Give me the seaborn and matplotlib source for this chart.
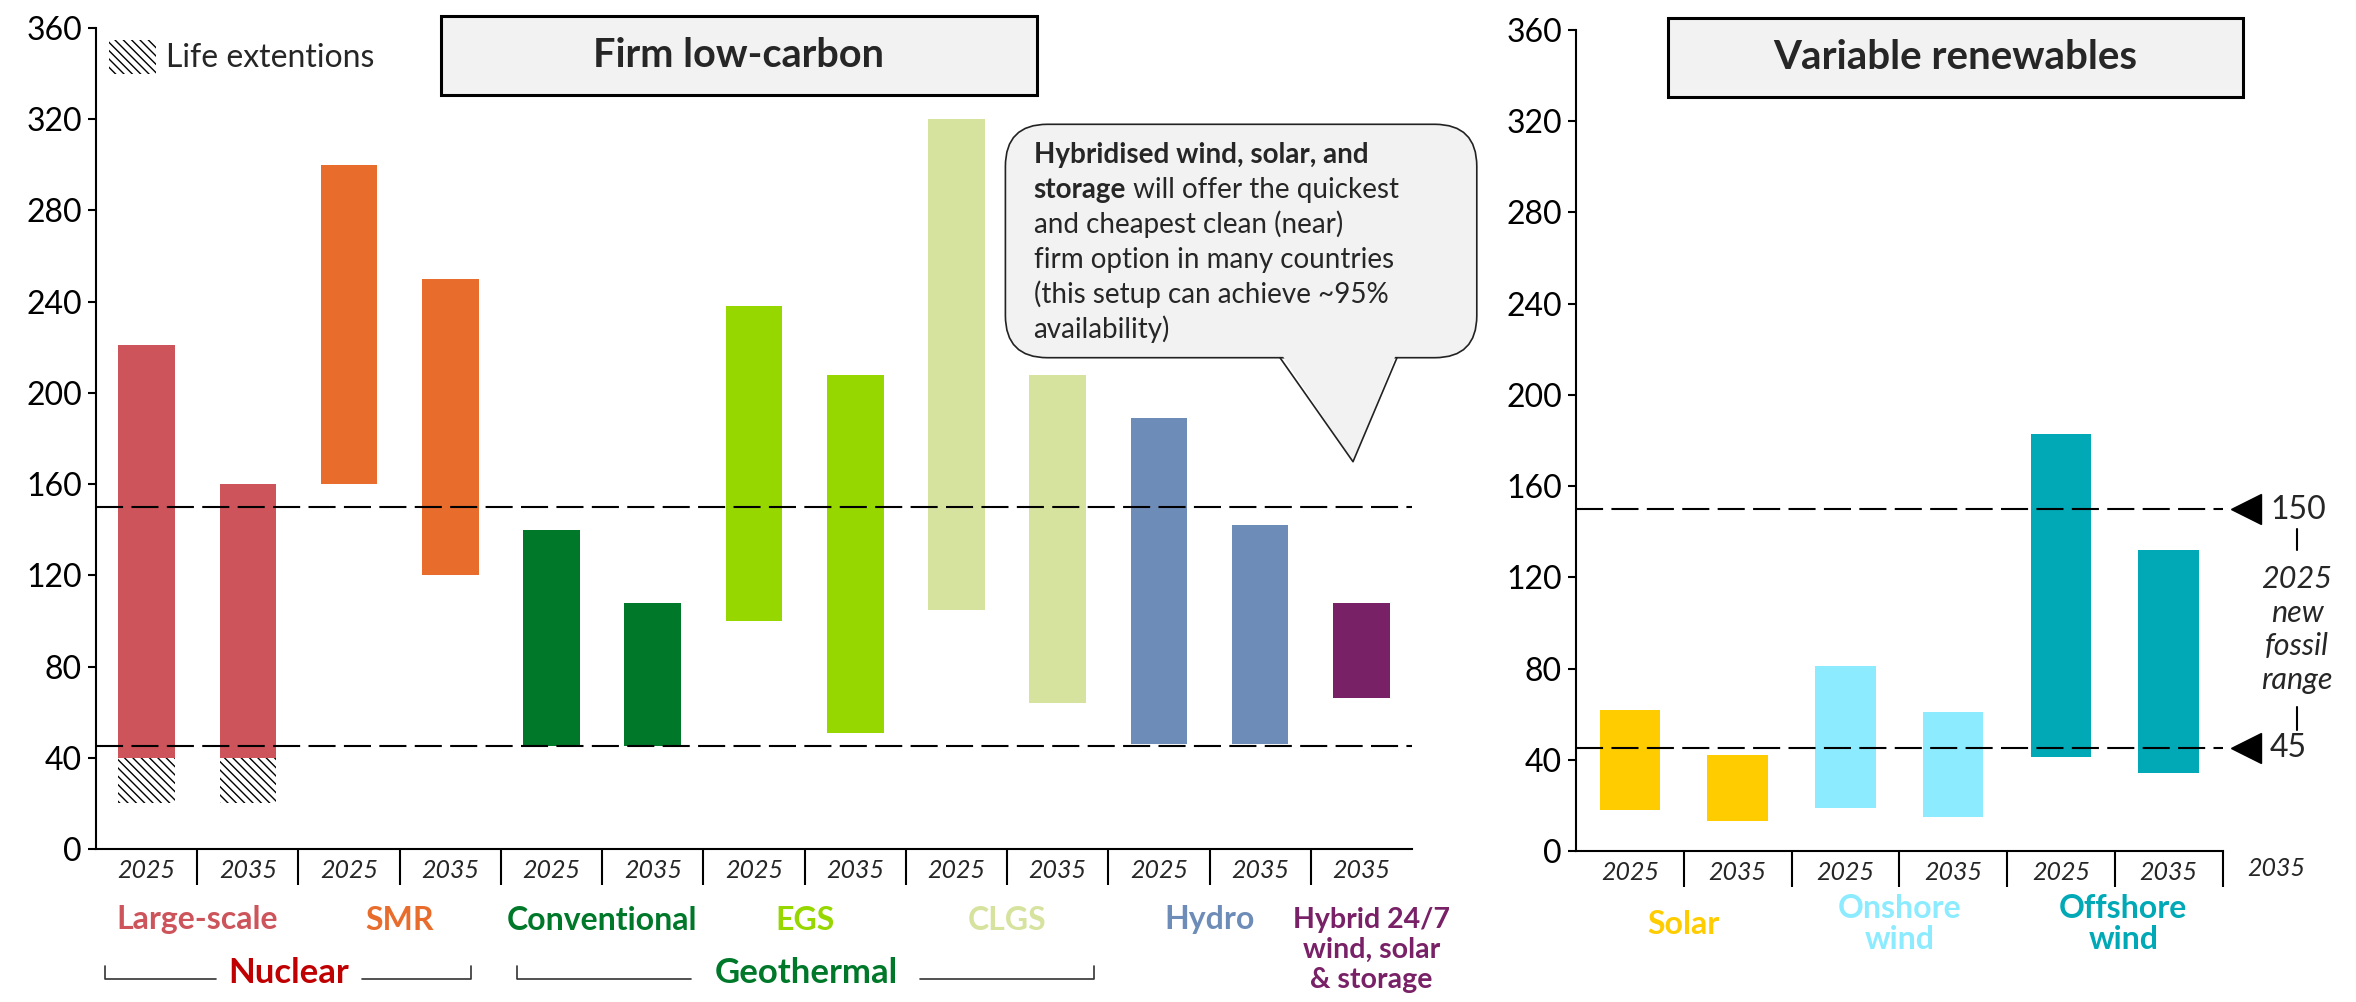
import numpy as np
import pandas as pd
import matplotlib
matplotlib.use("Agg")
import matplotlib.pyplot as plt
import seaborn as sns
from matplotlib.transforms import Affine2D
from matplotlib.patches import FancyBboxPatch, Rectangle, Polygon
from matplotlib.lines import Line2D

# ---------------- data: cost ranges (USD/MWh) ----------------
firm_tech = ["Large-scale", "Large-scale", "SMR", "SMR", "Conventional", "Conventional",
             "EGS", "EGS", "CLGS", "CLGS", "Hydro", "Hydro", "Hybrid"]
firm_years = ["2025", "2035", "2025", "2035", "2025", "2035",
              "2025", "2035", "2025", "2035", "2025", "2035", "2035"]
firm_low = [40, 40, 160, 120, 45, 45, 100, 51, 105, 64, 46, 46, 66]
firm_high = [221, 160, 300, 250, 140, 108, 238, 208, 320, 208, 189, 142, 108]

life_ext_slots = [0, 1]
life_ext_low = [20, 20]
life_ext_high = [40, 40]

var_tech = ["Solar", "Solar", "Onshore wind", "Onshore wind", "Offshore wind", "Offshore wind"]
var_years = ["2025", "2035", "2025", "2035", "2025", "2035"]
var_low = [18, 13, 19, 15, 41, 34]
var_high = [62, 42, 81, 61, 183, 132]

fossil_low, fossil_high = 45, 150
y_ticks = list(range(0, 361, 40))

tech_colors = {
    "Large-scale": "#CD545B", "SMR": "#E86C2C", "Conventional": "#00782A",
    "EGS": "#97D700", "CLGS": "#D6E39E", "Hydro": "#6E8CB8", "Hybrid": "#782167",
    "Solar": "#FFCC00", "Onshore wind": "#8DEBFF", "Offshore wind": "#00A9B5",
}

# ---------------- style ----------------
sns.set_style("ticks")
plt.rcParams["font.family"] = ["Lato", "DejaVu Sans"]
plt.rcParams["hatch.linewidth"] = 1.0

W, H = 2356, 1002
fig = plt.figure(figsize=(W / 100, H / 100), dpi=100)
# pixel coordinates, origin top-left
PX = Affine2D().scale(1 / W, -1 / H).translate(0, 1) + fig.transFigure

ax1 = fig.add_axes([96 / W, 1 - 849 / H, (1412 - 96) / W, 821 / H])
ax2 = fig.add_axes([1576 / W, 1 - 851 / H, (2222.5 - 1576) / W, 821 / H])

TICK_FS = 23
CAT_FS = 23


def range_bars(ax, tech, low, high):
    df = pd.DataFrame({"slot": [f"s{i}" for i in range(len(tech))],
                       "tech": tech, "low": low, "high": high})
    df["span"] = df["high"] - df["low"]
    pal = {s: tech_colors[t] for s, t in zip(df["slot"], df["tech"])}
    sns.barplot(data=df, x="slot", y="span", hue="slot", palette=pal,
                saturation=1, width=0.56, legend=False, ax=ax, zorder=2)
    for patch, lo in zip(ax.patches, df["low"]):
        patch.set_y(lo)
        patch.set_linewidth(0)


def style_axis(ax, years, minor):
    n = len(years)
    ax.set_xlim(-0.5, n - 0.5)
    ax.set_ylim(0, 360)
    ax.set_yticks(y_ticks)
    ax.set_xticks(range(n))
    ax.set_xticklabels(years, fontstyle="italic", fontsize=18)
    ax.set_xticks(minor, minor=True)
    ax.tick_params(axis="y", labelsize=TICK_FS, length=6, width=1.5, pad=4, colors="black")
    ax.tick_params(axis="x", which="major", length=0, pad=7)
    ax.tick_params(axis="x", which="minor", length=26, width=1.5, color="black")
    ax.set_xlabel("")
    ax.set_ylabel("")
    sns.despine(ax=ax)
    for s in ("left", "bottom"):
        ax.spines[s].set_linewidth(1.5)
        ax.spines[s].set_color("black")
    for v in (fossil_low, fossil_high):
        ax.axhline(v, color="black", lw=1.5, dashes=(13, 4), zorder=3)


range_bars(ax1, firm_tech, firm_low, firm_high)
ax1.bar(life_ext_slots, np.subtract(life_ext_high, life_ext_low), bottom=life_ext_low,
        width=0.56, color="white", edgecolor="black", hatch="\\\\\\\\", lw=0, zorder=2)
style_axis(ax1, firm_years, np.arange(0.5, len(firm_years) - 1))

range_bars(ax2, var_tech, var_low, var_high)
style_axis(ax2, var_years, np.arange(0.5, len(var_years)))


# ---------------- category labels ----------------
def label_at(ax, x, y_px, text, color, size=CAT_FS, **kw):
    # x in data units, y in image pixels
    x_fig = ax.transData.transform((x, 0))[0]
    fig.text(x_fig / fig.bbox.width, 1 - y_px / H, text, color=color, fontsize=size,
             fontweight="bold", ha="center", va="center", **kw)


label_at(ax1, 0.5, 920, "Large-scale", tech_colors["Large-scale"])
label_at(ax1, 2.5, 920, "SMR", tech_colors["SMR"])
label_at(ax1, 4.5, 920, "Conventional", tech_colors["Conventional"])
label_at(ax1, 6.5, 920, "EGS", tech_colors["EGS"])
label_at(ax1, 8.5, 920, "CLGS", tech_colors["CLGS"])
label_at(ax1, 10.5, 920, "Hydro", tech_colors["Hydro"])
label_at(ax1, 12.1, 950, "Hybrid 24/7\nwind, solar\n& storage", tech_colors["Hybrid"],
         size=20.5, linespacing=1.2)

label_at(ax2, 0.5, 925, "Solar", tech_colors["Solar"])
label_at(ax2, 2.5, 924, "Onshore\nwind", tech_colors["Onshore wind"], linespacing=1.08)
label_at(ax2, 4.58, 924, "Offshore\nwind", tech_colors["Offshore wind"], linespacing=1.08)

# group labels with brackets
fig.text(289 / W, 1 - 973 / H, "Nuclear", color="#C00000", fontsize=25,
         fontweight="bold", ha="center", va="center")
fig.text(806 / W, 1 - 973 / H, "Geothermal", color="#00782A", fontsize=25,
         fontweight="bold", ha="center", va="center")
for xs, ys in [([105, 105, 216], [966, 979, 979]), ([362, 471, 471], [979, 979, 966]),
               ([517, 517, 691], [966, 979, 979]), ([920, 1094, 1094], [979, 979, 966])]:
    fig.add_artist(Line2D(xs, ys, transform=PX, color="#333333", lw=1.2))

# stray year label beyond the right axis
fig.text(2276 / W, 1 - 869 / H, "2035", fontsize=18, fontstyle="italic",
         ha="center", va="center")

# ---------------- panel titles ----------------
for (x0, y0, x1, y1, title, fsz) in [(440.5, 15.7, 1036.8, 95.3, "Firm low-carbon", 28.5),
                                     (1668.4, 17.7, 2242.7, 96.7, "Variable renewables", 29)]:
    fig.add_artist(Rectangle((x0, y0), x1 - x0, y1 - y0, transform=PX,
                             facecolor="#F2F2F2", edgecolor="black", lw=2.2))
    fig.text(((x0 + x1) / 2) / W, 1 - ((y0 + y1) / 2) / H, title, fontsize=fsz,
             fontweight="bold", color="#262626", ha="center", va="center")

# ---------------- legend ----------------
fig.add_artist(Rectangle((108.7, 40), 47, 34, transform=PX, facecolor="white",
                         edgecolor="black", hatch="\\\\\\\\", lw=0))
fig.text(165.6 / W, 1 - 58 / H, "Life extentions", fontsize=23, color="#262626",
         ha="left", va="center")

# ---------------- callout ----------------
fig.add_artist(FancyBboxPatch((1005.4, 124.3), 471.4, 233.4, transform=PX,
                              boxstyle="round,pad=0,rounding_size=42",
                              facecolor="#F2F2F2", edgecolor="#222222", lw=1.2))
fig.add_artist(Polygon([(1280, 352), (1353, 461.7), (1397, 352)], closed=True,
                       transform=PX, facecolor="#F2F2F2", edgecolor="none"))
fig.add_artist(Line2D([1280, 1353, 1397], [357.7, 461.7, 357.7], transform=PX,
                      color="#222222", lw=1.2))

tx = 1033.5 / W
fs = 20
fig.text(tx, 1 - 163 / H, "Hybridised wind, solar, and", fontsize=fs, fontweight="bold",
         color="#262626", va="baseline")
t_bold = fig.text(tx, 1 - 198 / H, "storage", fontsize=fs, fontweight="bold",
                  color="#262626", va="baseline")
fig.add_artist(plt.Annotation(" will offer the quickest", xy=(1, 0), xycoords=t_bold,
                              fontsize=fs, color="#262626", va="bottom", ha="left"))
for yb, line in [(233, "and cheapest clean (near)"), (268, "firm option in many countries"),
                 (303, "(this setup can achieve ~95%"), (338, "availability)")]:
    fig.text(tx, 1 - yb / H, line, fontsize=fs, color="#262626", va="baseline")

# ---------------- fossil range marker ----------------
ax2.plot([5.72, 5.72], [fossil_high, fossil_low], marker="<", ms=21, color="black",
         ls="none", clip_on=False, zorder=4)
fig.text(2270 / W, 1 - 510 / H, str(fossil_high), fontsize=TICK_FS, ha="left", va="center")
fig.text(2270 / W, 1 - 748 / H, str(fossil_low), fontsize=TICK_FS, ha="left", va="center")
fig.text(2297 / W, 1 - 629.5 / H, "2025\nnew\nfossil\nrange", fontsize=22,
         fontstyle="italic", ha="center", va="center", linespacing=1.25)
for ys in ([529, 550], [707, 730]):
    fig.add_artist(Line2D([2297, 2297], ys, transform=PX, color="black", lw=1.5))

fig.savefig("out.png", dpi=100)
